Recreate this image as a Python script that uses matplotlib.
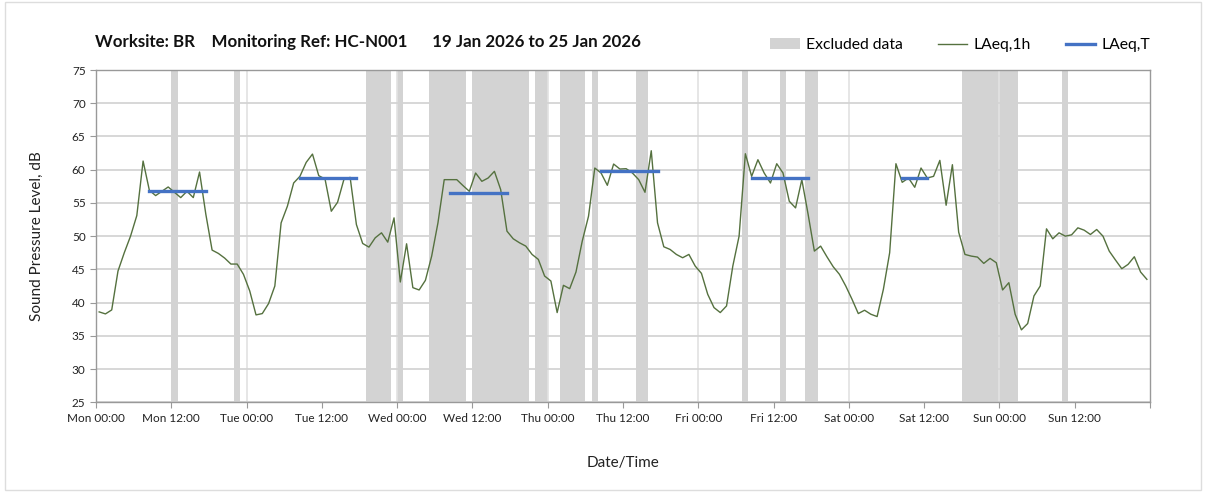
import numpy as np
import matplotlib.pyplot as plt
from matplotlib.patches import Patch, Rectangle
from matplotlib.lines import Line2D

plt.rcParams['font.family'] = ['Lato', 'DejaVu Sans']

# hourly LAeq values, Mon 00:00 .. Sun 23:00
laeq_1h = [
    38.6, 38.3, 38.9, 44.75, 47.5, 50.0, 53.1, 61.3, 56.9, 56.1, 56.75, 57.4,
    56.6, 55.8, 56.75, 55.8, 59.65, 53.3, 47.9, 47.4, 46.7, 45.8, 45.8, 44.25,
    41.75, 38.15, 38.35, 39.85, 42.5, 52.0, 54.5, 58.0, 59.0, 61.1, 62.35, 59.1,
    58.6, 53.75, 55.1, 58.5, 58.85, 51.75, 48.9, 48.35, 49.75, 50.5, 49.1, 52.75,
    43.1, 48.85, 42.25, 41.9, 43.35, 47.0, 52.0, 58.5, 58.5, 58.5, 57.6, 56.75,
    59.5, 58.25, 58.75, 59.75, 57.0, 50.75, 49.6, 49.0, 48.5, 47.25, 46.5, 44.0,
    43.25, 38.5, 42.6, 42.1, 44.6, 49.25, 53.0, 60.25, 59.5, 57.65, 60.85, 60.1,
    60.15, 59.5, 58.5, 56.6, 62.85, 52.0, 48.4, 48.0, 47.25, 46.75, 47.25, 45.5,
    44.4, 41.25, 39.25, 38.5, 39.5, 45.5, 50.0, 62.4, 59.0, 61.5, 59.5, 58.0,
    60.9, 59.5, 55.25, 54.25, 58.5, 53.3, 47.75, 48.5, 46.9, 45.4, 44.25, 42.5,
    40.5, 38.35, 38.85, 38.25, 37.9, 42.0, 47.5, 60.9, 58.1, 58.75, 57.35, 60.25,
    58.75, 59.0, 61.4, 54.65, 60.75, 50.6, 47.25, 47.0, 46.85, 45.9, 46.65, 46.0,
    41.9, 43.0, 38.25, 35.9, 36.85, 41.0, 42.5, 51.1, 49.6, 50.5, 50.0, 50.2,
    51.25, 50.9, 50.25, 51.0, 50.0, 47.75, 46.4, 45.1, 45.75, 46.9, 44.6, 43.5,
]

# excluded periods (hours from Mon 00:00)
excl_start = [12, 22, 43, 48, 53, 60, 70, 74, 79, 86, 103, 109, 113, 138, 154]
excl_end = [13, 23, 47, 49, 59, 69, 72, 78, 80, 88, 104, 110, 115, 147, 155]

# LAeq,T periods
laeqt_start = [8, 32, 56, 80, 104, 128]
laeqt_end = [18, 42, 66, 90, 114, 133]
laeqt_value = [56.8, 58.75, 56.55, 59.85, 58.8, 58.8]

tick_labels = ['Mon 00:00', 'Mon 12:00', 'Tue 00:00', 'Tue 12:00',
               'Wed 00:00', 'Wed 12:00', 'Thu 00:00', 'Thu 12:00',
               'Fri 00:00', 'Fri 12:00', 'Sat 00:00', 'Sat 12:00',
               'Sun 00:00', 'Sun 12:00', '']

n = len(laeq_1h)
x = np.arange(n) + 0.5
laeqt = np.full(n, np.nan)
for s, e, v in zip(laeqt_start, laeqt_end, laeqt_value):
    laeqt[s:e] = v

fig = plt.figure(figsize=(12.08, 4.93), dpi=100)
ax = fig.add_axes([0.0795, 0.184, 0.8725, 0.674])

for s, e in zip(excl_start, excl_end):
    ax.axvspan(s, e, color='#d3d3d3', lw=0, zorder=0)

for d in range(24, n, 24):
    ax.axvline(d, color='#e2e2e2', lw=1.2, zorder=0.5)
ax.set_yticks(np.arange(25, 76, 5))
ax.yaxis.grid(True, color='#d4d4d4', lw=1.3, zorder=0.5)
ax.set_axisbelow(True)

ax.plot(x, laeq_1h, color='#55713f', lw=1.0, zorder=2)
ax.plot(x, laeqt, color='#4472c4', lw=2.4, solid_capstyle='projecting', zorder=3)

ax.set_xlim(0, n)
ax.set_ylim(25, 75)
ax.set_xticks(np.arange(0, n + 1, 12))
ax.set_xticklabels(tick_labels)
ax.tick_params(axis='both', labelsize=8.5, color='#999999', length=4,
               labelcolor='#222222')
for sp in ax.spines.values():
    sp.set_color('#999999')
    sp.set_linewidth(1.0)

ax.set_xlabel('Date/Time', fontsize=11, color='#222222', labelpad=23)
ax.set_ylabel('Sound Pressure Level, dB', fontsize=11, color='#222222', labelpad=20)

fig.text(0.079, 0.915,
         'Worksite: BR    Monitoring Ref: HC-N001      19 Jan 2026 to 25 Jan 2026',
         fontsize=12.2, fontweight='bold', color='#111111', va='center')

handles = [Patch(facecolor='#d3d3d3', edgecolor='none'),
           Line2D([], [], color='#55713f', lw=1.0),
           Line2D([], [], color='#4472c4', lw=2.4)]
fig.legend(handles, ['Excluded data', 'LAeq,1h', 'LAeq,T'],
           loc='center right', bbox_to_anchor=(0.964, 0.908), ncol=3,
           frameon=False, fontsize=11.3, handlelength=1.9, handletextpad=0.4,
           columnspacing=2.2)

fig.add_artist(Rectangle((0.004, 0.006), 0.99, 0.99, transform=fig.transFigure,
                         fill=False, edgecolor='#dddddd', lw=1))

fig.savefig('out.png', dpi=100)
